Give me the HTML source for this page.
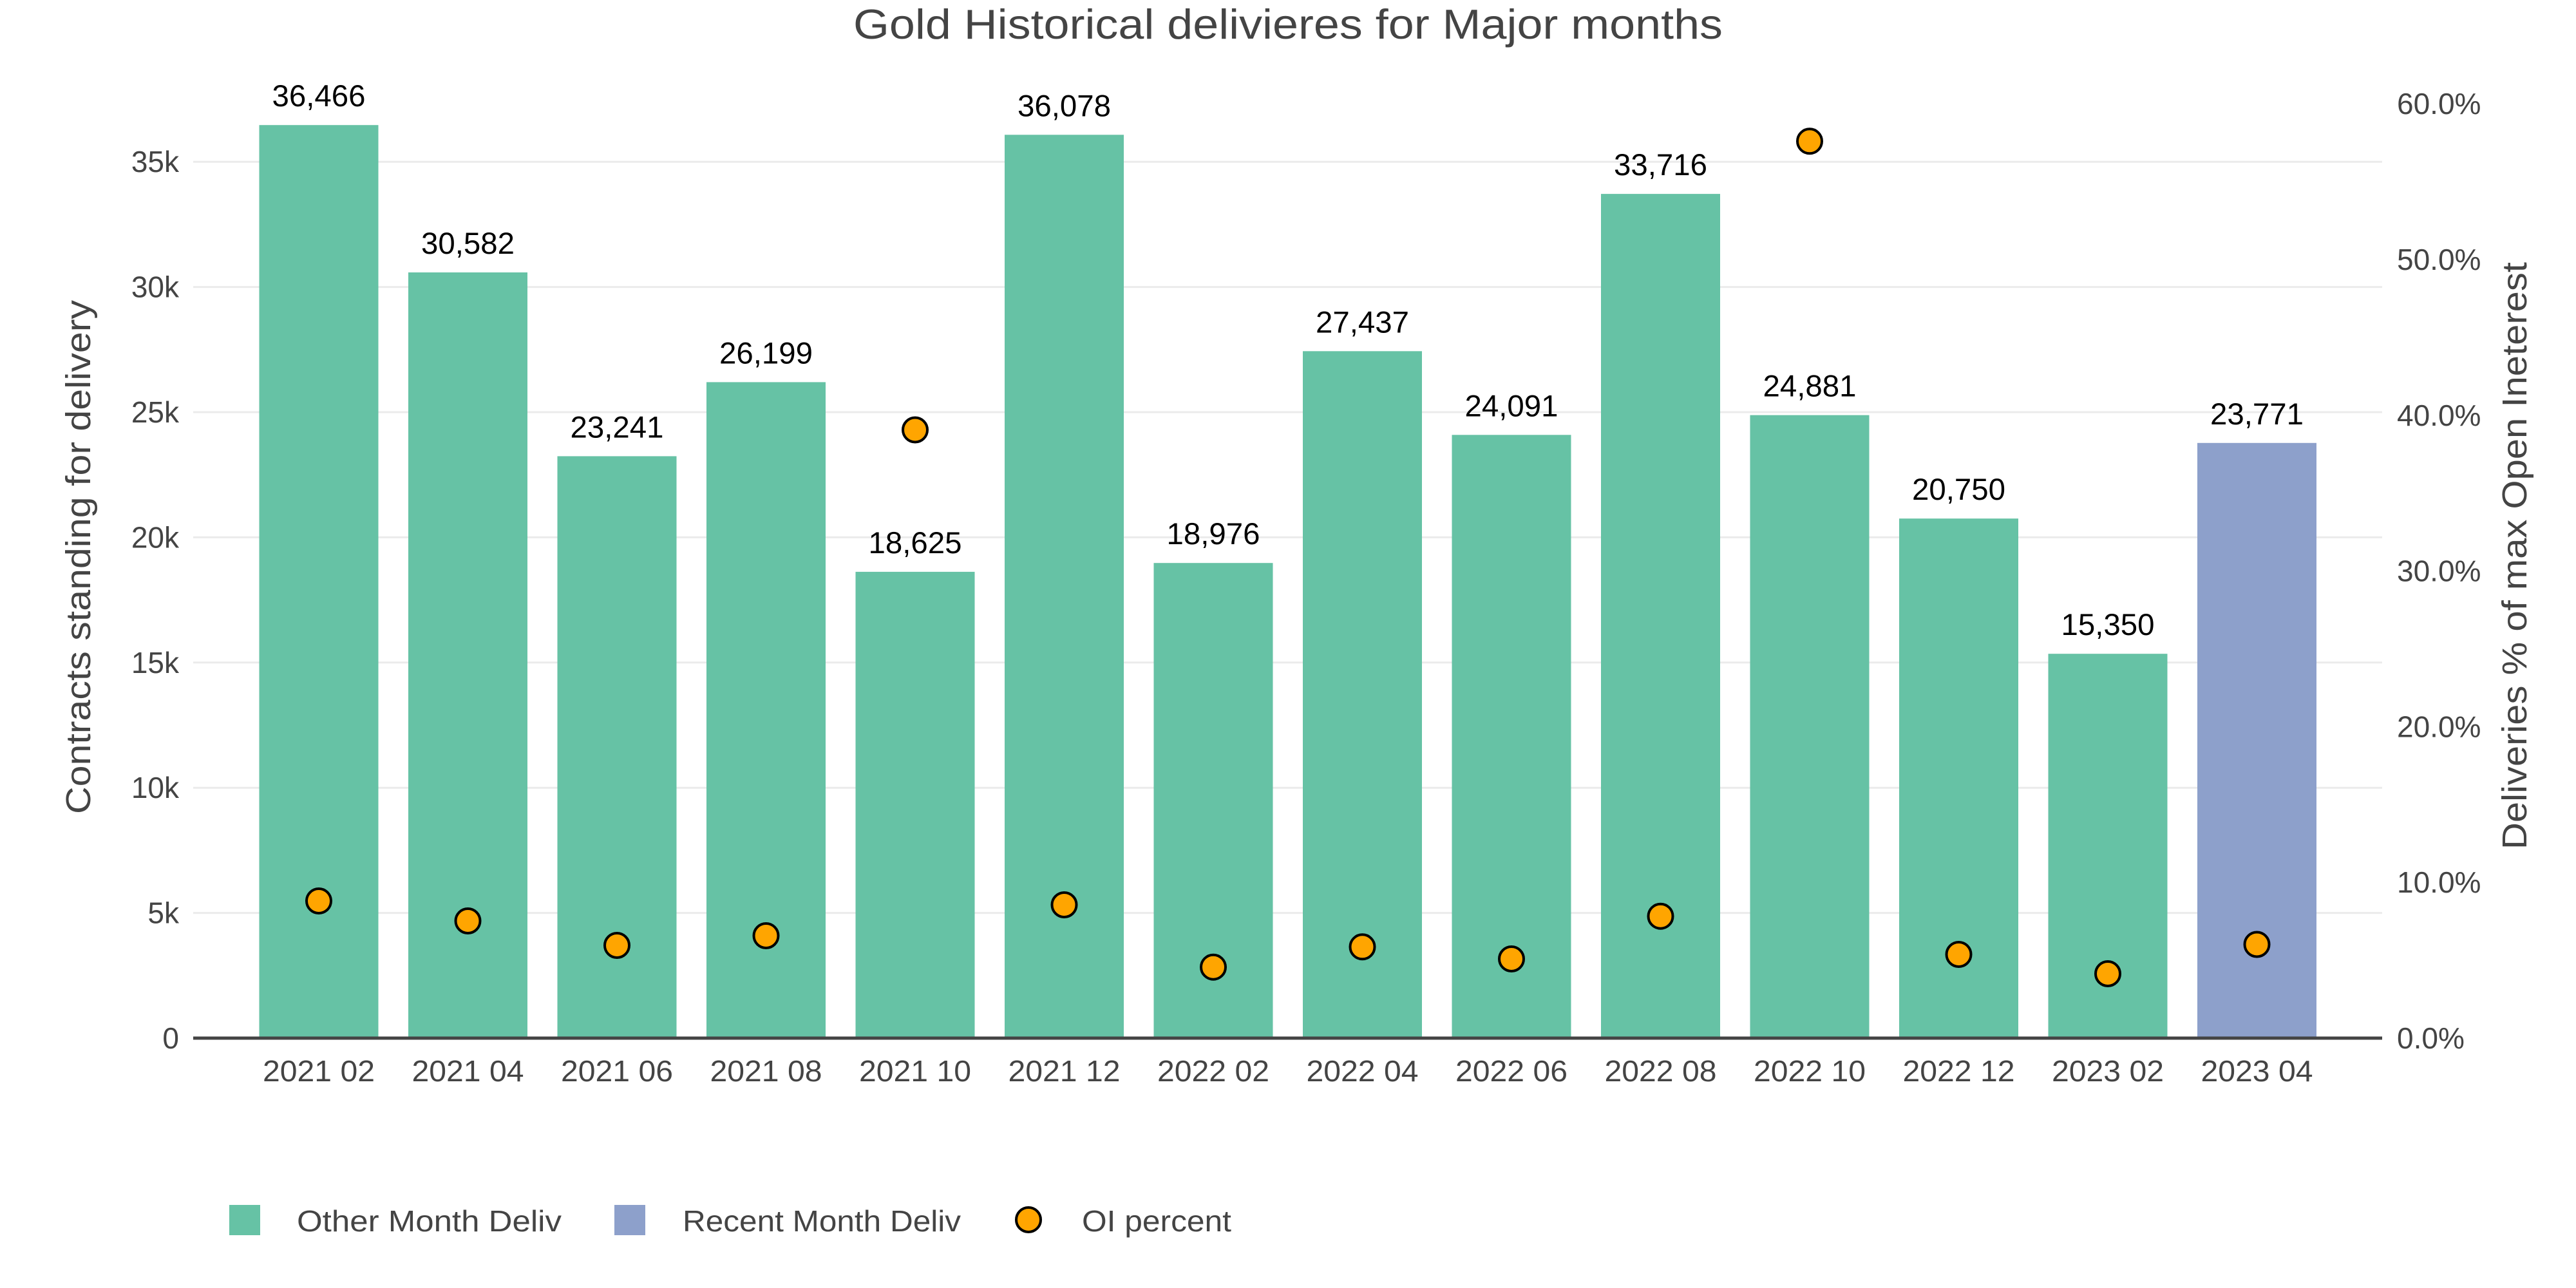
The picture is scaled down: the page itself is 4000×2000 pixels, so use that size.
<!DOCTYPE html>
<html>
<head>
<meta charset="utf-8">
<style>
html,body{margin:0;padding:0;background:#fff;}
svg{display:block;}
text{font-family:"Liberation Sans",sans-serif;}
</style>
</head>
<body>
<svg width="4000" height="2000" viewBox="0 0 4000 2000" xmlns="http://www.w3.org/2000/svg">
<rect width="4000" height="2000" fill="#fff"/>
<!-- title -->
<text x="2000" y="60" font-size="65" fill="#444" text-anchor="middle" textLength="1350" lengthAdjust="spacingAndGlyphs">Gold Historical delivieres for Major months</text>

<!-- gridlines -->
<g stroke="#ebebeb" stroke-width="3">
<line x1="300" x2="3699" y1="1417.6" y2="1417.6"/>
<line x1="300" x2="3699" y1="1223.2" y2="1223.2"/>
<line x1="300" x2="3699" y1="1028.8" y2="1028.8"/>
<line x1="300" x2="3699" y1="834.4" y2="834.4"/>
<line x1="300" x2="3699" y1="640" y2="640"/>
<line x1="300" x2="3699" y1="445.6" y2="445.6"/>
<line x1="300" x2="3699" y1="251.2" y2="251.2"/>
</g>

<!-- left ticks -->
<g font-size="46" fill="#444" text-anchor="end">
<text x="278" y="1628">0</text>
<text x="278" y="1433.6">5k</text>
<text x="278" y="1239.2">10k</text>
<text x="278" y="1044.8">15k</text>
<text x="278" y="850.4">20k</text>
<text x="278" y="656">25k</text>
<text x="278" y="461.6">30k</text>
<text x="278" y="267.2">35k</text>
</g>

<!-- right ticks -->
<g font-size="46" fill="#444" text-anchor="start">
<text x="3722" y="1628">0.0%</text>
<text x="3722" y="1386.2">10.0%</text>
<text x="3722" y="1144.4">20.0%</text>
<text x="3722" y="902.6">30.0%</text>
<text x="3722" y="660.8">40.0%</text>
<text x="3722" y="419">50.0%</text>
<text x="3722" y="177.2">60.0%</text>
</g>

<!-- axis titles -->
<text transform="translate(140,865) rotate(-90)" font-size="54" fill="#444" text-anchor="middle" textLength="798" lengthAdjust="spacingAndGlyphs">Contracts standing for delivery</text>
<text transform="translate(3923,863) rotate(-90)" font-size="54" fill="#444" text-anchor="middle" textLength="912" lengthAdjust="spacingAndGlyphs">Deliveries % of max Open Ineterest</text>

<!-- bars -->
<g fill="#66c2a5">
<rect x="402.5" y="194.2" width="185" height="1417.8"/>
<rect x="634" y="423.0" width="185" height="1189.0"/>
<rect x="865.5" y="708.4" width="185" height="903.6"/>
<rect x="1097" y="593.4" width="185" height="1018.6"/>
<rect x="1328.5" y="887.9" width="185" height="724.1"/>
<rect x="1560" y="209.3" width="185" height="1402.7"/>
<rect x="1791.5" y="874.2" width="185" height="737.8"/>
<rect x="2023" y="545.3" width="185" height="1066.7"/>
<rect x="2254.5" y="675.3" width="185" height="936.7"/>
<rect x="2486" y="301.1" width="185" height="1310.9"/>
<rect x="2717.5" y="644.6" width="185" height="967.4"/>
<rect x="2949" y="805.2" width="185" height="806.8"/>
<rect x="3180.5" y="1015.2" width="185" height="596.8"/>
</g>
<rect x="3412" y="687.8" width="185" height="924.2" fill="#8da0cb"/>

<!-- zero line -->
<line x1="300" x2="3699" y1="1612" y2="1612" stroke="#444" stroke-width="5"/>

<!-- bar labels -->
<g font-size="47" fill="#000" text-anchor="middle">
<text x="495" y="165.2" textLength="145" lengthAdjust="spacingAndGlyphs">36,466</text>
<text x="726.5" y="394" textLength="145" lengthAdjust="spacingAndGlyphs">30,582</text>
<text x="958" y="679.4" textLength="145" lengthAdjust="spacingAndGlyphs">23,241</text>
<text x="1189.5" y="564.4" textLength="145" lengthAdjust="spacingAndGlyphs">26,199</text>
<text x="1421" y="858.9" textLength="145" lengthAdjust="spacingAndGlyphs">18,625</text>
<text x="1652.5" y="180.3" textLength="145" lengthAdjust="spacingAndGlyphs">36,078</text>
<text x="1884" y="845.2" textLength="145" lengthAdjust="spacingAndGlyphs">18,976</text>
<text x="2115.5" y="516.3" textLength="145" lengthAdjust="spacingAndGlyphs">27,437</text>
<text x="2347" y="646.3" textLength="145" lengthAdjust="spacingAndGlyphs">24,091</text>
<text x="2578.5" y="272.1" textLength="145" lengthAdjust="spacingAndGlyphs">33,716</text>
<text x="2810" y="615.6" textLength="145" lengthAdjust="spacingAndGlyphs">24,881</text>
<text x="3041.5" y="776.2" textLength="145" lengthAdjust="spacingAndGlyphs">20,750</text>
<text x="3273" y="986.2" textLength="145" lengthAdjust="spacingAndGlyphs">15,350</text>
<text x="3504.5" y="658.8" textLength="145" lengthAdjust="spacingAndGlyphs">23,771</text>
</g>

<!-- OI percent markers -->
<g fill="#ffa500" stroke="#000" stroke-width="4">
<circle cx="495" cy="1399" r="19"/>
<circle cx="726.5" cy="1430" r="19"/>
<circle cx="958" cy="1468" r="19"/>
<circle cx="1189.5" cy="1453" r="19"/>
<circle cx="1421" cy="667.5" r="19"/>
<circle cx="1652.5" cy="1405" r="19"/>
<circle cx="1884" cy="1501.7" r="19"/>
<circle cx="2115.5" cy="1470.3" r="19"/>
<circle cx="2347" cy="1489" r="19"/>
<circle cx="2578.5" cy="1422.7" r="19"/>
<circle cx="2810" cy="219.3" r="19"/>
<circle cx="3041.5" cy="1482" r="19"/>
<circle cx="3273" cy="1512" r="19"/>
<circle cx="3504.5" cy="1466.5" r="19"/>
</g>

<!-- x tick labels -->
<g font-size="46" fill="#444" text-anchor="middle">
<text x="495" y="1679" textLength="174" lengthAdjust="spacingAndGlyphs">2021 02</text>
<text x="726.5" y="1679" textLength="174" lengthAdjust="spacingAndGlyphs">2021 04</text>
<text x="958" y="1679" textLength="174" lengthAdjust="spacingAndGlyphs">2021 06</text>
<text x="1189.5" y="1679" textLength="174" lengthAdjust="spacingAndGlyphs">2021 08</text>
<text x="1421" y="1679" textLength="174" lengthAdjust="spacingAndGlyphs">2021 10</text>
<text x="1652.5" y="1679" textLength="174" lengthAdjust="spacingAndGlyphs">2021 12</text>
<text x="1884" y="1679" textLength="174" lengthAdjust="spacingAndGlyphs">2022 02</text>
<text x="2115.5" y="1679" textLength="174" lengthAdjust="spacingAndGlyphs">2022 04</text>
<text x="2347" y="1679" textLength="174" lengthAdjust="spacingAndGlyphs">2022 06</text>
<text x="2578.5" y="1679" textLength="174" lengthAdjust="spacingAndGlyphs">2022 08</text>
<text x="2810" y="1679" textLength="174" lengthAdjust="spacingAndGlyphs">2022 10</text>
<text x="3041.5" y="1679" textLength="174" lengthAdjust="spacingAndGlyphs">2022 12</text>
<text x="3273" y="1679" textLength="174" lengthAdjust="spacingAndGlyphs">2023 02</text>
<text x="3504.5" y="1679" textLength="174" lengthAdjust="spacingAndGlyphs">2023 04</text>
</g>

<!-- legend -->
<rect x="356" y="1871" width="48" height="47" fill="#66c2a5"/>
<text x="461" y="1912" font-size="46" fill="#444" textLength="411" lengthAdjust="spacingAndGlyphs">Other Month Deliv</text>
<rect x="954" y="1871" width="48" height="47" fill="#8da0cb"/>
<text x="1060" y="1912" font-size="46" fill="#444" textLength="432" lengthAdjust="spacingAndGlyphs">Recent Month Deliv</text>
<circle cx="1597" cy="1894" r="19" fill="#ffa500" stroke="#000" stroke-width="4"/>
<text x="1680" y="1912" font-size="46" fill="#444" textLength="232" lengthAdjust="spacingAndGlyphs">OI percent</text>
</svg>
</body>
</html>
